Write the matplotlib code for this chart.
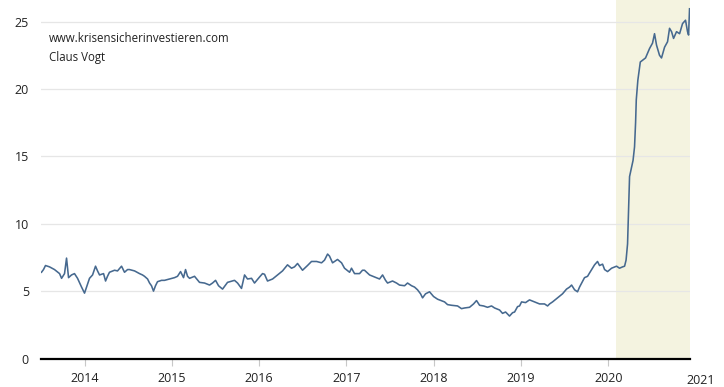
import matplotlib

matplotlib.use("Agg")
import matplotlib.pyplot as plt
import matplotlib.transforms as mtransforms

# decimal years
dates = [
    2013.507, 2013.530, 2013.553, 2013.599, 2013.656, 2013.714, 2013.737, 2013.771,
    2013.794, 2013.817, 2013.851, 2013.885, 2013.920, 2013.966, 2014.000, 2014.034,
    2014.057, 2014.092, 2014.126, 2014.149, 2014.172, 2014.218, 2014.241, 2014.263,
    2014.286, 2014.344, 2014.378, 2014.424, 2014.458, 2014.493, 2014.515, 2014.573,
    2014.630, 2014.664, 2014.687, 2014.722, 2014.745, 2014.767, 2014.790, 2014.813,
    2014.836, 2014.882, 2014.916, 2014.974, 2015.031, 2015.065, 2015.100, 2015.134,
    2015.157, 2015.180, 2015.203, 2015.260, 2015.317, 2015.375, 2015.432, 2015.466,
    2015.501, 2015.535, 2015.581, 2015.638, 2015.718, 2015.753, 2015.798, 2015.833,
    2015.867, 2015.913, 2015.947, 2016.005, 2016.039, 2016.062, 2016.096, 2016.154,
    2016.211, 2016.268, 2016.325, 2016.371, 2016.405, 2016.440, 2016.497, 2016.554,
    2016.600, 2016.658, 2016.715, 2016.749, 2016.784, 2016.806, 2016.841, 2016.898,
    2016.944, 2016.978, 2017.036, 2017.058, 2017.093, 2017.150, 2017.184, 2017.207,
    2017.265, 2017.322, 2017.379, 2017.414, 2017.448, 2017.471, 2017.528, 2017.574,
    2017.608, 2017.666, 2017.700, 2017.746, 2017.780, 2017.814, 2017.849, 2017.872,
    2017.906, 2017.952, 2017.998, 2018.044, 2018.124, 2018.158, 2018.204, 2018.273,
    2018.318, 2018.353, 2018.410, 2018.456, 2018.490, 2018.525, 2018.571, 2018.616,
    2018.662, 2018.697, 2018.754, 2018.788, 2018.823, 2018.845, 2018.868, 2018.903,
    2018.926, 2018.960, 2018.983, 2019.006, 2019.052, 2019.097, 2019.155, 2019.212,
    2019.269, 2019.304, 2019.327, 2019.361, 2019.418, 2019.475, 2019.521, 2019.556,
    2019.579, 2019.613, 2019.647, 2019.670, 2019.727, 2019.762, 2019.785, 2019.842,
    2019.876, 2019.899, 2019.934, 2019.957, 2019.991, 2020.037, 2020.094, 2020.128,
    2020.163, 2020.186, 2020.203, 2020.220, 2020.231, 2020.243, 2020.266, 2020.283,
    2020.300, 2020.312, 2020.320, 2020.338, 2020.366, 2020.395, 2020.426, 2020.472,
    2020.506, 2020.529, 2020.552, 2020.586, 2020.609, 2020.644, 2020.678, 2020.701,
    2020.724, 2020.747, 2020.781, 2020.816, 2020.850, 2020.884, 2020.907, 2020.919,
    2020.930,
]
values = [
    6.4, 6.6, 6.9, 6.8, 6.6, 6.3, 5.95, 6.3,
    7.45, 6.0, 6.2, 6.3, 5.95, 5.3, 4.85, 5.5,
    5.95, 6.2, 6.85, 6.5, 6.2, 6.3, 5.75, 6.1,
    6.4, 6.55, 6.5, 6.85, 6.4, 6.6, 6.6, 6.5,
    6.3, 6.2, 6.1, 5.9, 5.6, 5.4, 5.0, 5.4,
    5.7, 5.8, 5.8, 5.9, 6.0, 6.1, 6.45, 6.0,
    6.6, 6.1, 5.95, 6.1, 5.65, 5.6, 5.45, 5.6,
    5.8, 5.4, 5.15, 5.65, 5.8, 5.6, 5.2, 6.2,
    5.9, 5.95, 5.6, 6.05, 6.3, 6.25, 5.75, 5.9,
    6.2, 6.5, 6.95, 6.7, 6.8, 7.05, 6.55, 6.9,
    7.2, 7.2, 7.1, 7.3, 7.75, 7.6, 7.1, 7.35,
    7.1, 6.7, 6.4, 6.7, 6.3, 6.3, 6.55, 6.55,
    6.2, 6.05, 5.9, 6.2, 5.8, 5.6, 5.75, 5.6,
    5.45, 5.4, 5.6, 5.4, 5.3, 5.1, 4.8, 4.5,
    4.8, 4.95, 4.6, 4.4, 4.2, 4.0, 3.95, 3.9,
    3.7, 3.75, 3.8, 4.05, 4.3, 3.95, 3.9, 3.8,
    3.9, 3.75, 3.6, 3.35, 3.45, 3.3, 3.15, 3.4,
    3.45, 3.85, 3.9, 4.2, 4.15, 4.35, 4.2, 4.05,
    4.05, 3.9, 4.05, 4.2, 4.5, 4.8, 5.15, 5.3,
    5.45, 5.1, 4.95, 5.3, 6.0, 6.1, 6.35, 6.95,
    7.2, 6.9, 7.0, 6.6, 6.45, 6.7, 6.85, 6.7,
    6.8, 6.85, 7.3, 8.5, 11.0, 13.5, 14.2, 14.7,
    15.7, 17.5, 19.2, 20.65, 22.0, 22.15, 22.3, 23.0,
    23.4, 24.1, 23.25, 22.5, 22.3, 23.1, 23.5, 24.5,
    24.25, 23.75, 24.25, 24.1, 24.85, 25.1, 24.25, 24.0,
    25.95,
]
year_ticks = [2014, 2015, 2016, 2017, 2018, 2019, 2020]
value_ticks = [0, 5, 10, 15, 20, 25]
shade_start = 2020.09
source_lines = ["www.krisensicherinvestieren.com", "Claus Vogt"]

plt.rcParams["font.family"] = ["Open Sans", "DejaVu Sans"]

fig = plt.figure(figsize=(7.24, 3.87), dpi=100)
ax = fig.add_axes((0.0573, 0.0736, 0.8951, 0.9264))

x_end = dates[-1]
ax.axvspan(shade_start, x_end, color="#f4f3e0", zorder=0, lw=0)
ax.plot(dates, values, color="#46698f", lw=1.15, zorder=3)

ax.set_xlim(2013.507, x_end)
ax.set_ylim(0, 26.6)
ax.set_yticks(value_ticks)
ax.set_xticks(year_ticks)
ax.set_xticklabels([str(y) for y in year_ticks])
ax.grid(axis="y", color="#e6e6e6", lw=0.9)
ax.set_axisbelow(True)

for side in ("top", "right", "left"):
    ax.spines[side].set_visible(False)
ax.spines["bottom"].set_color("black")
ax.spines["bottom"].set_linewidth(1.6)
ax.spines["bottom"].set_zorder(4)

ax.tick_params(axis="x", length=5, color="#c8c8c8", width=0.8, pad=5,
               labelsize=9, labelcolor="#222222")
ax.tick_params(axis="y", length=0, pad=9, labelsize=9, labelcolor="#222222")

# last year label sits just past the end of the data
trans = mtransforms.blended_transform_factory(ax.transData, ax.transAxes)
ax.text(2021.06, -0.0435, "2021", transform=trans, ha="center", va="top",
        fontsize=9, color="#222222", clip_on=False)

ax.text(0.0115, 0.912, "\n".join(source_lines), transform=ax.transAxes,
        ha="left", va="top", fontsize=8.3, color="#222222", linespacing=1.6)

fig.savefig("out.png", dpi=100)
